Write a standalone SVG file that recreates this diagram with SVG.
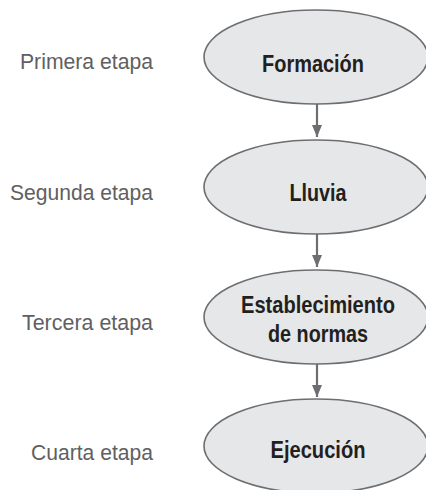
<svg xmlns="http://www.w3.org/2000/svg" width="426" height="490" viewBox="0 0 426 490">
  <style>
    .node ellipse { fill: #e6e7e8; stroke: #6d6e71; stroke-width: 1.6; }
    .node text { font-family: "Liberation Sans", Arial, sans-serif; font-weight: bold; font-size: 24px; fill: #231f20; text-anchor: middle; }
    .label { font-family: "Liberation Sans", Arial, sans-serif; font-size: 22.5px; fill: #5f6062; text-anchor: end; }
    .conn line { stroke: #6d6e71; stroke-width: 2.2; }
  </style>
  <defs>
    <marker id="arrow" viewBox="0 0 12 10" refX="12" refY="5" markerWidth="12" markerHeight="10" markerUnits="userSpaceOnUse" orient="auto">
      <path d="M0,0 L12,5 L0,10 Z" fill="#6d6e71"/>
    </marker>
  </defs>
  <rect width="426" height="490" fill="#ffffff"/>

  <text class="label" x="153" y="69" textLength="133" lengthAdjust="spacingAndGlyphs">Primera etapa</text>
  <text class="label" x="153" y="200" textLength="143" lengthAdjust="spacingAndGlyphs">Segunda etapa</text>
  <text class="label" x="153" y="330" textLength="131" lengthAdjust="spacingAndGlyphs">Tercera etapa</text>
  <text class="label" x="153" y="460" textLength="122" lengthAdjust="spacingAndGlyphs">Cuarta etapa</text>

  <g class="conn">
    <line x1="317" y1="104" x2="317" y2="137" marker-end="url(#arrow)"/>
    <line x1="317" y1="234" x2="317" y2="267" marker-end="url(#arrow)"/>
    <line x1="317" y1="364" x2="317" y2="397" marker-end="url(#arrow)"/>
  </g>

  <g id="formacion" class="node">
    <ellipse cx="316" cy="57" rx="112" ry="47"/>
    <text x="313" y="72" textLength="102" lengthAdjust="spacingAndGlyphs">Formación</text>
  </g>
  <g id="lluvia" class="node">
    <ellipse cx="316" cy="187" rx="112" ry="47"/>
    <text x="318" y="201" textLength="57" lengthAdjust="spacingAndGlyphs">Lluvia</text>
  </g>
  <g id="establecimiento" class="node">
    <ellipse cx="316" cy="317" rx="112" ry="47"/>
    <text x="318" y="313" textLength="154" lengthAdjust="spacingAndGlyphs">Establecimiento</text>
    <text x="318" y="342" textLength="100" lengthAdjust="spacingAndGlyphs">de normas</text>
  </g>
  <g id="ejecucion" class="node">
    <ellipse cx="316" cy="446" rx="112" ry="47"/>
    <text x="318" y="458" textLength="95" lengthAdjust="spacingAndGlyphs">Ejecución</text>
  </g>
</svg>
